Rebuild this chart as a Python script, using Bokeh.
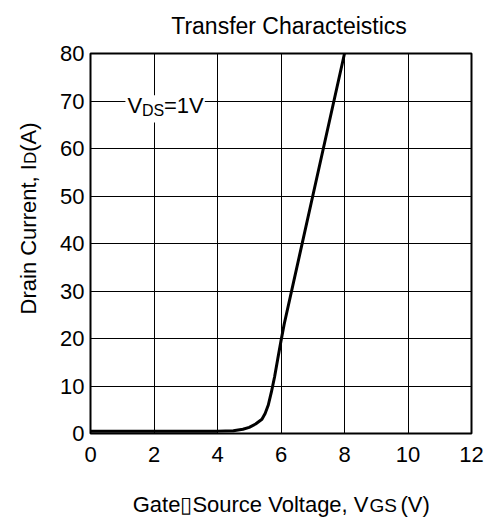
import math
from bokeh.plotting import figure
from bokeh.layouts import column, row
from bokeh.models import Range1d, FixedTicker, Label, BoxAnnotation
from bokeh.embed import file_html
from bokeh.resources import INLINE

# ---- data ----
vgs = [0, 1, 2, 3, 3.5, 4.0, 4.5, 4.8, 5.0, 5.2, 5.4, 5.5, 5.6, 5.7, 5.8, 5.9, 6.0, 6.1, 7.0, 8.0]
id_a = [0.5, 0.5, 0.5, 0.5, 0.5, 0.5, 0.6, 0.9, 1.3, 2.0, 3.0, 4.2, 6.0, 8.8, 12.0, 15.8, 19.5, 23.0, 50, 80]
x_ticks = [0, 2, 4, 6, 8, 10, 12]
y_ticks = [0, 10, 20, 30, 40, 50, 60, 70, 80]

title_text = "Transfer Characteistics"
xlabel_main, xlabel_sub, xlabel_unit = "Gate\u25afSource Voltage, V", "GS", "(V)"
ylabel_main, ylabel_sub, ylabel_unit = "Drain Current, I", "D", "(A)"
ann_main, ann_sub, ann_rest = "V", "DS", "=1V"

FONT = "Liberation Sans"


def blank(w, h):
    f = figure(width=w, height=h, output_backend="svg", toolbar_location=None,
               x_range=Range1d(0, w), y_range=Range1d(0, h), title=None,
               x_axis_location=None, y_axis_location=None,
               min_border=0, min_border_left=0, min_border_right=0,
               min_border_top=0, min_border_bottom=0)
    f.outline_line_color = None
    f.grid.visible = False
    f.background_fill_color = "white"
    f.border_fill_color = "white"
    return f


def lab(fig, x, y, text, size, align="left", angle=0):
    l = Label(x=x, y=y, text=text, text_font=FONT, text_font_size=size,
              text_align=align, text_baseline="alphabetic", angle=angle,
              text_color="black")
    fig.add_layout(l)


# ---- main chart ----
p = figure(width=434, height=433, output_backend="svg", toolbar_location=None,
           x_range=Range1d(0, 12), y_range=Range1d(0, 80), title=None,
           min_border_left=40, min_border_right=13, min_border_top=13, min_border_bottom=40)
p.background_fill_color = "white"
p.border_fill_color = "white"
p.outline_line_color = "black"
p.outline_line_width = 2

for ax, ticks in ((p.xaxis[0], x_ticks), (p.yaxis[0], y_ticks)):
    ax.ticker = FixedTicker(ticks=ticks)
    ax.axis_line_color = None
    ax.major_tick_line_color = None
    ax.minor_tick_line_color = None
    ax.major_tick_out = 0
    ax.major_tick_in = 0
    ax.major_label_text_font = FONT
    ax.major_label_text_font_size = "22px"
    ax.major_label_text_color = "black"
p.xaxis[0].major_label_standoff = 13
p.yaxis[0].major_label_standoff = 6

p.xgrid[0].ticker = FixedTicker(ticks=x_ticks)
p.ygrid[0].ticker = FixedTicker(ticks=y_ticks)
for g in (p.xgrid[0], p.ygrid[0]):
    g.grid_line_color = "black"
    g.grid_line_width = 1
    g.grid_line_alpha = 1.0

p.line(vgs, id_a, line_color="black", line_width=3)

# annotation V_DS = 1V on a white patch that hides the grid behind it
p.add_layout(BoxAnnotation(left=1.1, right=3.6, bottom=65.5, top=71.2,
                           fill_color="white", fill_alpha=1.0, line_color=None))
lab(p, 1.165, 69.0, ann_main, "22px")
lab(p, 1.622, 67.9, ann_sub, "16px")
lab(p, 2.315, 69.0, ann_rest, "22px")

# ---- title strip (page y 0..40) ----
t = blank(484, 40)
lab(t, 288.5, 15, title_text, "23px", align="center")

# ---- y label strip (page y 40..473) ----
yl = blank(50, 433)
lab(yl, 28, 473 - 166, ylabel_main, "22px", align="right", angle=math.pi / 2)
lab(yl, 29.6, 473 - 166, ylabel_sub, "17px", align="left", angle=math.pi / 2)
lab(yl, 28, 473 - 152, ylabel_unit, "22px", align="left", angle=math.pi / 2)

# ---- x label strip (page y 473..518) ----
xl = blank(484, 45)
lab(xl, 368, 14, xlabel_main, "22px", align="right")
lab(xl, 369, 13, xlabel_sub, "19px")
lab(xl, 400, 14, xlabel_unit, "22px")

layout = column(t, row(yl, p), xl)
open("out.html", "w").write(file_html(layout, INLINE))
